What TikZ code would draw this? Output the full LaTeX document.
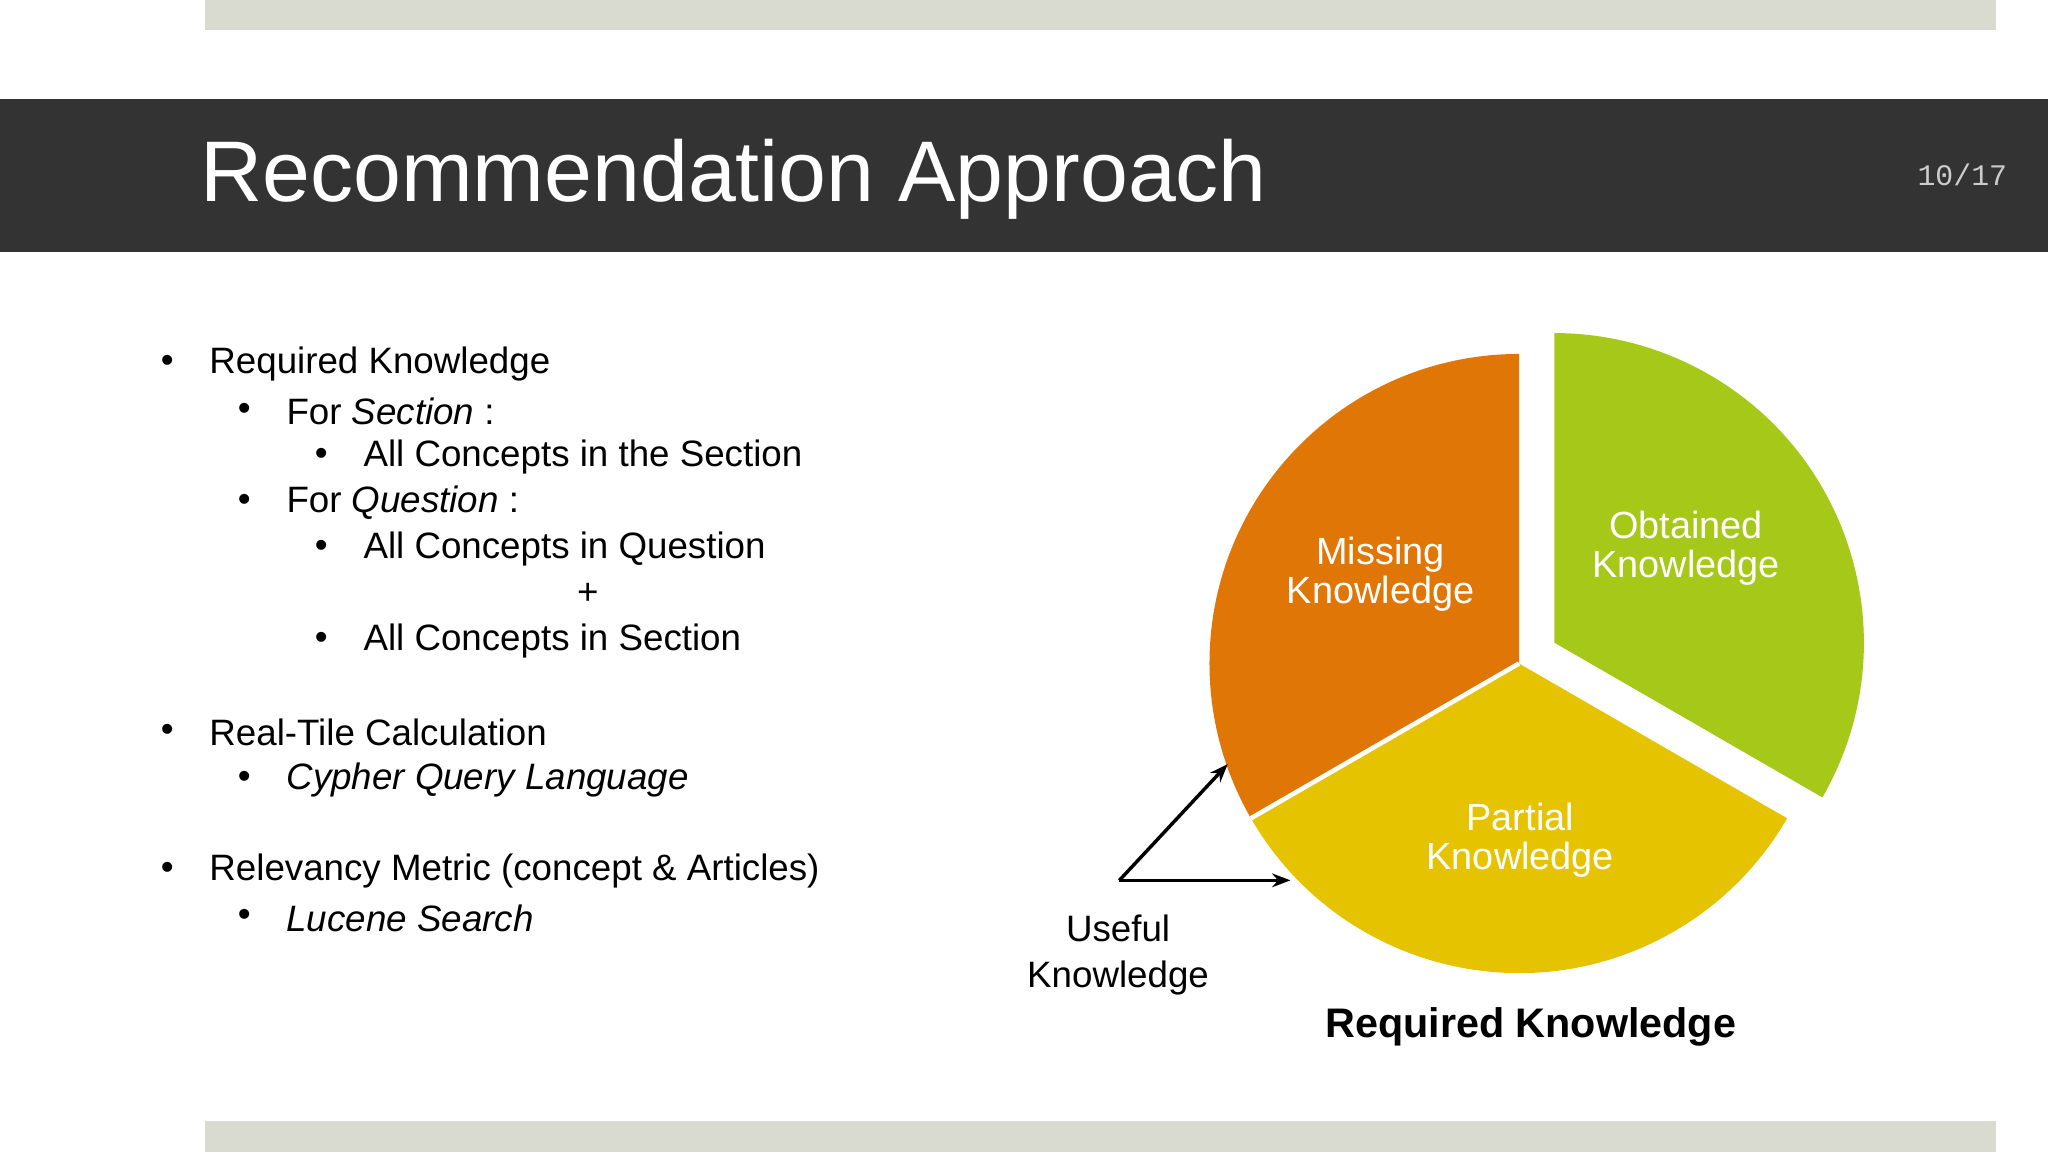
\documentclass[tikz,border=0pt]{standalone}
\usepackage{fontspec}
\setmainfont{Liberation Sans}
\newfontfamily\monof{Liberation Mono}
\usetikzlibrary{arrows.meta}
\definecolor{barc}{HTML}{D9DAD0}
\definecolor{headc}{HTML}{333333}
\definecolor{orgc}{HTML}{E07606}
\definecolor{yelc}{HTML}{E5C300}
\definecolor{grnc}{HTML}{A5C819}
\tikzset{body/.style={anchor=west,inner sep=0pt,font=\fontsize{16}{19}\selectfont},
 bul/.style={inner sep=0pt,font=\fontsize{16}{19}\selectfont},
 pielab/.style={text=white,align=center,inner sep=0pt,font=\fontsize{16.5}{17}\selectfont},
 arr/.style={-{Stealth[length=8pt]},line width=1.5pt}}
\begin{document}
\begin{tikzpicture}[x=0.02cm,y=-0.02cm]
\useasboundingbox (0,0) rectangle (1568,882);
\fill[white] (0,0) rectangle (1568,882);
\fill[barc] (157,0) rectangle (1528,23);
\fill[barc] (157,858) rectangle (1528,882);
\fill[headc] (0,76) rectangle (1568,193);
\node[anchor=west,text=white,inner sep=0pt,font=\fontsize{37.5}{40}\selectfont] (title) at (153,137) {Recommendation Approach};
\node[anchor=east,text=gray!40,inner sep=0pt,font=\monof\fontsize{13}{14}\selectfont] (pg) at (1537,134) {10/17};
% bullets
\foreach \n/\lv/\y/\t in {a/1/279/{Required Knowledge},b/2/315/{For \textit{Section} :},c/3/350/{All Concepts in the Section},d/2/385/{For \textit{Question} :},e/3/420/{All Concepts in Question},f/3/491/{All Concepts in Section},g/1/561/{Real-Tile Calculation},h/2/597/{\textit{Cypher Query Language}},i/1/667/{Relevancy Metric (concept \& Articles)},j/2/703/{\textit{Lucene Search}}}{
 \pgfmathsetmacro\bx{128+59*(\lv-1)}
 \node[bul] (b\n) at (\bx,\y) {•};
 \node[body] (t\n) at (\bx+32,\y) {\t};
}
\node[bul] (plus) at (450,455) {+};
% pie
\coordinate (c) at (1163,508);
\fill[orgc] (c) -- ++(90:-237) arc[start angle=-90,end angle=-210,radius=237] -- cycle;
\fill[yelc] (c) -- ++(-210:237) arc[start angle=-210,end angle=-330,radius=237] -- cycle;
\draw[white,line width=2pt] (c) -- ++(-210:237);
\coordinate (c2) at (1190,492);
\fill[grnc] (c2) -- ++(-330:237) arc[start angle=-330,end angle=-450,radius=237] -- cycle;
\node[pielab] (miss) at (1057,440) {Missing\\Knowledge};
\node[pielab] (obt) at (1291,420) {Obtained\\Knowledge};
\node[pielab] (part) at (1164,643) {Partial\\Knowledge};
\coordinate (o) at (857,674);
\coordinate (e1) at (940,585);
\coordinate (e2) at (988,674);
\draw[arr] (o) -- (e1);
\draw[arr] (o) -- (e2);
\node[align=center,inner sep=0pt,font=\fontsize{16}{20}\selectfont] (use) at (856,731) {Useful\\Knowledge};
\node[inner sep=0pt,font=\bfseries\fontsize{18}{20}\selectfont] (req) at (1172,786) {Required Knowledge};
\end{tikzpicture}
\end{document}
